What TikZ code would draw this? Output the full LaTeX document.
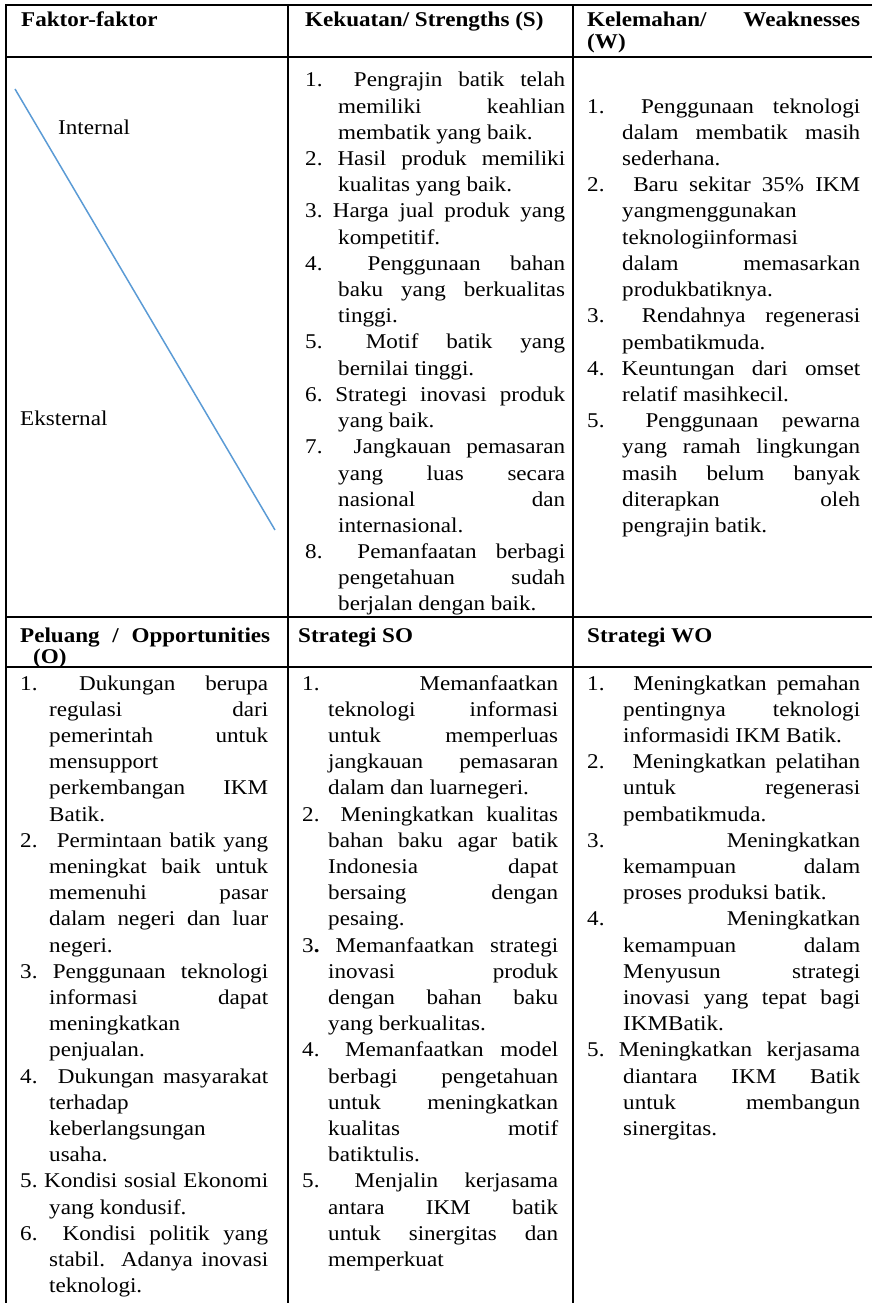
\documentclass[tikz,border=0pt]{standalone}
\usepackage{fontspec}
\setmainfont{Liberation Serif}[FakeStretch=1.1]
\usepackage{tikz}
\usetikzlibrary{calc}
\definecolor{diagblue}{RGB}{91,155,213}

% cell text: lines of fixed width
\newlength\cw
\newlength\hg
\newcommand\cell[3]{\vtop{\cw=#1\relax\hg=#2\relax#3}}
\newcommand\jl[1]{\hbox to\cw{\strut#1}}
\newcommand\nt[2]{\hbox to\cw{\strut\hbox to\hg{#1\hfil}\ #2}}
\newcommand\ns[2]{\hbox to\cw{\strut#1\ #2}}
\newcommand\cj[1]{\hbox to\cw{\strut\hskip\hg\relax#1}}
\newcommand\cl[1]{\hbox to\cw{\strut\hskip\hg\relax#1\hfil}}

\begin{document}
\begin{tikzpicture}[x=1pt,y=-1pt]
        \tikzstyle{every node}=[inner sep=0pt, anchor=base west, font=\fontsize{21}{26.2}\selectfont]
        \tikzstyle{head}=[font=\fontsize{21}{20.5}\selectfont\bfseries]
        \tikzstyle{rule}=[line width=1.5pt]
        \useasboundingbox (0,0) rectangle (872,1303);
        % Table rules
        \draw[rule] (6,5) -- (872,5);
        \draw[rule] (6,57) -- (872,57);
        \draw[rule] (6,617) -- (872,617);
        \draw[rule] (6,667) -- (872,667);
        \draw[rule] (6,4.25) -- (6,1303);
        \draw[rule] (288,4.25) -- (288,1303);
        \draw[rule] (573,4.25) -- (573,1303);
        % Header row
        \node[head] (hF) at (21,27) {Faktor-faktor};
        \node[head] (hS) at (305,27) {Kekuatan/ Strengths (S)};
        \node[head] (hW) at (587,27) {\cell{273pt}{0pt}{\jl{Kelemahan/ Weaknesses}\cl{(W)}}};
        % Diagonal cell
        \coordinate (d1) at (15,89);
        \coordinate (d2) at (275,530);
        \draw[diagblue, line width=1.5pt] (d1) -- (d2);
        \node (int) at (58,135) {Internal};
        \node (eks) at (20,425) {Eksternal};
        % Strengths
        \node (kS) at (305,87) {\cell{260pt}{33pt}{
                \nt{1.}{Pengrajin batik telah}
                \cj{memiliki keahlian}
                \cl{membatik yang baik.}
                \ns{2.}{Hasil produk memiliki}
                \cl{kualitas yang baik.}
                \ns{3.}{Harga jual produk yang}
                \cl{kompetitif.}
                \nt{4.}{Penggunaan bahan}
                \cj{baku yang berkualitas}
                \cl{tinggi.}
                \nt{5.}{Motif batik yang}
                \cl{bernilai tinggi.}
                \ns{6.}{Strategi inovasi produk}
                \cl{yang baik.}
                \nt{7.}{Jangkauan pemasaran}
                \cj{yang luas secara}
                \cj{nasional dan}
                \cl{internasional.}
                \nt{8.}{Pemanfaatan berbagi}
                \cj{pengetahuan sudah}
                \cl{berjalan dengan baik.}}};
        % Weaknesses
        \node (kW) at (587,113.2) {\cell{273pt}{35pt}{
                \nt{1.}{Penggunaan teknologi}
                \cj{dalam membatik masih}
                \cl{sederhana.}
                \nt{2.}{Baru sekitar 35\% IKM}
                \cl{yangmenggunakan}
                \cl{teknologiinformasi}
                \cj{dalam memasarkan}
                \cl{produkbatiknya.}
                \nt{3.}{Rendahnya regenerasi}
                \cl{pembatikmuda.}
                \ns{4.}{Keuntungan dari omset}
                \cl{relatif masihkecil.}
                \nt{5.}{Penggunaan pewarna}
                \cj{yang ramah lingkungan}
                \cj{masih belum banyak}
                \cj{diterapkan oleh}
                \cl{pengrajin batik.}}};
        % Second header row
        \node[head] (hO) at (20,642) {\cell{250pt}{13pt}{\jl{Peluang / Opportunities}\cl{(O)}}};
        \node[head] (hSO) at (298,642) {Strategi SO};
        \node[head] (hWO) at (587,642) {Strategi WO};
        % Opportunities
        \node (kO) at (20,690) {\cell{248pt}{29pt}{
                \nt{1.}{Dukungan berupa}
                \cj{regulasi dari}
                \cj{pemerintah untuk}
                \cl{mensupport}
                \cj{perkembangan IKM}
                \cl{Batik.}
                \nt{2.}{Permintaan batik yang}
                \cj{meningkat baik untuk}
                \cj{memenuhi pasar}
                \cj{dalam negeri dan luar}
                \cl{negeri.}
                \ns{3.}{Penggunaan teknologi}
                \cj{informasi dapat}
                \cl{meningkatkan}
                \cl{penjualan.}
                \nt{4.}{Dukungan masyarakat}
                \cl{terhadap}
                \cl{keberlangsungan}
                \cl{usaha.}
                \ns{5.}{Kondisi sosial Ekonomi}
                \cl{yang kondusif.}
                \nt{6.}{Kondisi politik yang}
                \cj{stabil. Adanya inovasi}
                \cl{teknologi.}}};
        % Strategi SO
        \node (kSO) at (302,690) {\cell{256pt}{26pt}{
                \nt{1.}{Memanfaatkan}
                \cj{teknologi informasi}
                \cj{untuk memperluas}
                \cj{jangkauan pemasaran}
                \cl{dalam dan luarnegeri.}
                \nt{2.}{Meningkatkan kualitas}
                \cj{bahan baku agar batik}
                \cj{Indonesia dapat}
                \cj{bersaing dengan}
                \cl{pesaing.}
                \ns{3\textbf{.}}{Memanfaatkan strategi}
                \cj{inovasi produk}
                \cj{dengan bahan baku}
                \cl{yang berkualitas.}
                \nt{4.}{Memanfaatkan model}
                \cj{berbagi pengetahuan}
                \cj{untuk meningkatkan}
                \cj{kualitas motif}
                \cl{batiktulis.}
                \nt{5.}{Menjalin kerjasama}
                \cj{antara IKM batik}
                \cj{untuk sinergitas dan}
                \cl{memperkuat}}};
        % Strategi WO
        \node (kWO) at (587,690) {\cell{273pt}{36pt}{
                \nt{1.}{Meningkatkan pemahan}
                \cj{pentingnya teknologi}
                \cl{informasidi IKM Batik.}
                \nt{2.}{Meningkatkan pelatihan}
                \cj{untuk regenerasi}
                \cl{pembatikmuda.}
                \nt{3.}{Meningkatkan}
                \cj{kemampuan dalam}
                \cl{proses produksi batik.}
                \nt{4.}{Meningkatkan}
                \cj{kemampuan dalam}
                \cj{Menyusun strategi}
                \cj{inovasi yang tepat bagi}
                \cl{IKMBatik.}
                \ns{5.}{Meningkatkan kerjasama}
                \cj{diantara IKM Batik}
                \cj{untuk membangun}
                \cl{sinergitas.}}};
\end{tikzpicture}
\end{document}
